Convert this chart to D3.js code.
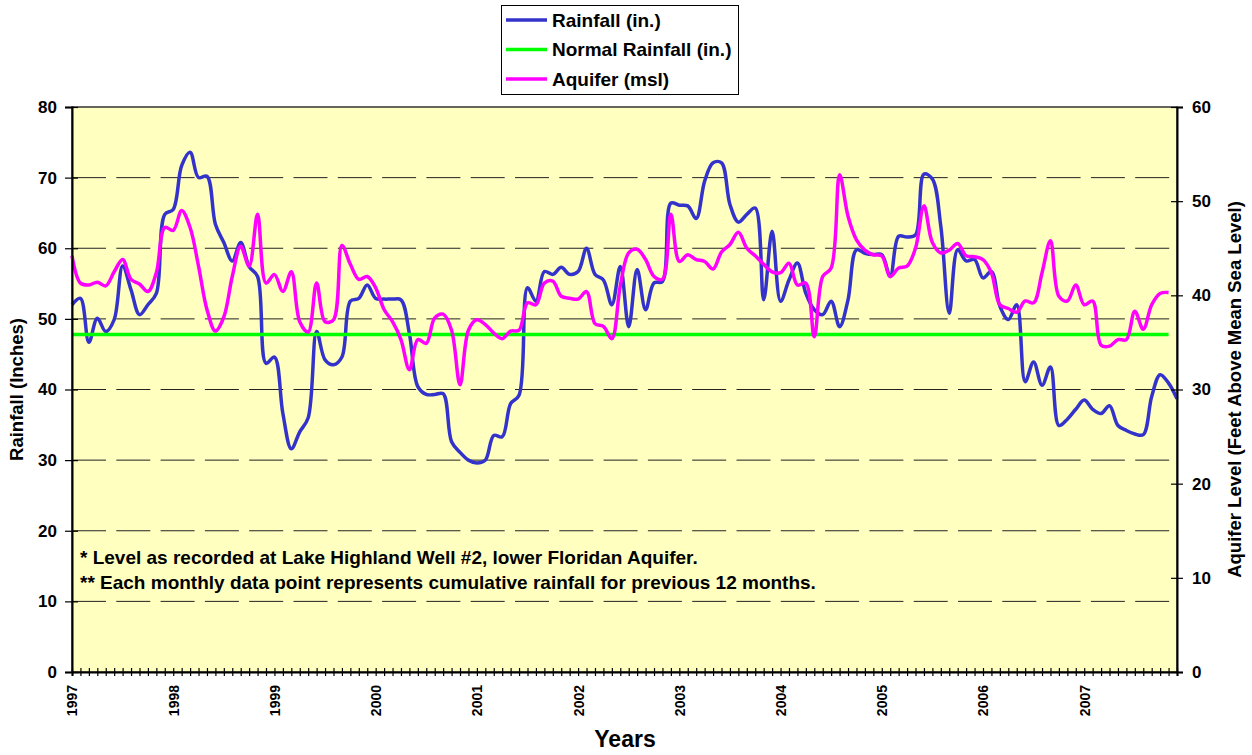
<!DOCTYPE html>
<html>
<head>
<meta charset="utf-8">
<script src="https://cdn.jsdelivr.net/npm/d3@7"></script>
<style>
    body { margin: 0; background: #fff; }
    text { font-family: "Liberation Sans", Arial, sans-serif; font-weight: bold; fill: #000; }
</style>
</head>
<body>
<script>
// year labels on the category axis
var years = ['1997', '1998', '1999', '2000', '2001', '2002', '2003', '2004', '2005', '2006', '2007'];

// rolling 12-month rainfall (in.), one value per month from Jan 1997
var rainfall = [
    52.0, 52.9, 46.7, 50.1, 48.2, 49.9, 57.5, 54.1, 50.6, 52.0, 53.6, 64.8,
    65.5, 71.7, 73.6, 70.0, 70.2, 63.4, 60.8, 58.2, 60.8, 57.4, 56.0, 43.7,
    44.6, 36.6, 31.6, 34.0, 36.0, 48.2, 44.2, 43.5, 44.6, 52.5, 52.9, 54.8,
    52.9, 52.8, 52.8, 52.7, 47.9, 40.4, 39.3, 39.3, 39.4, 32.6, 31.1, 30.0,
    29.6, 30.0, 33.5, 33.3, 38.0, 39.2, 54.4, 52.5, 56.7, 56.3, 57.3, 56.3,
    56.7, 60.0, 56.3, 55.5, 52.0, 57.4, 48.9, 57.0, 51.3, 55.1, 55.3, 66.4,
    66.1, 66.0, 64.2, 69.5, 72.1, 72.1, 66.2, 63.7, 64.8, 65.7, 52.7, 62.4,
    52.5, 55.5, 57.9, 53.6, 51.3, 50.6, 52.5, 48.9, 52.7, 59.8, 59.3, 59.1,
    59.1, 56.0, 61.7, 61.6, 61.9, 70.5, 69.8, 63.1, 50.8, 59.8, 58.2, 58.4,
    55.8, 56.7, 51.8, 49.9, 52.0, 41.1, 43.9, 40.6, 43.2, 34.9, 35.8, 37.2,
    38.5, 37.2, 36.6, 37.7, 34.9, 34.2, 33.7, 33.6, 39.0, 42.1, 40.9, 38.7
];

// aquifer level (feet above mean sea level), one value per month from Jan 1997
var aquifer = [
    44.2, 41.3, 41.1, 41.4, 41.0, 42.5, 43.8, 41.7, 41.2, 40.4, 42.4, 47.2,
    46.9, 49.0, 47.2, 43.1, 38.5, 36.2, 37.7, 42.0, 45.2, 43.1, 48.6, 41.3,
    42.2, 40.4, 42.5, 37.2, 36.1, 41.3, 37.2, 37.4, 45.3, 43.3, 41.7, 42.0,
    40.8, 38.5, 37.2, 35.3, 32.1, 35.3, 34.9, 37.6, 38.0, 36.3, 30.5, 36.3,
    37.4, 36.9, 36.0, 35.4, 36.2, 36.3, 39.2, 39.0, 41.3, 41.5, 39.9, 39.7,
    39.6, 40.4, 37.0, 36.7, 35.4, 41.0, 44.5, 44.9, 43.8, 42.0, 41.7, 48.6,
    43.6, 44.3, 43.8, 43.6, 42.8, 44.6, 45.4, 46.7, 45.0, 44.2, 43.3, 42.5,
    42.4, 43.4, 41.1, 41.3, 35.6, 42.0, 42.9, 52.8, 48.4, 45.9, 44.8, 44.3,
    44.2, 42.0, 42.9, 43.1, 45.0, 49.5, 45.6, 44.5, 44.8, 45.5, 44.2, 44.1,
    43.8, 42.4, 39.0, 38.6, 38.2, 39.4, 39.2, 42.4, 45.8, 39.9, 39.4, 41.1,
    39.0, 39.4, 34.7, 34.6, 35.3, 35.3, 38.3, 36.4, 39.0, 40.2, 40.3
];

// normal annual rainfall (in.)
var normalRainfall = 47.8;

// axis ticks
var rainTicks    = [0, 10, 20, 30, 40, 50, 60, 70, 80];
var aquiferTicks = [0, 10, 20, 30, 40, 50, 60];

// legend entries
var legendItems = [
    { label: 'Rainfall (in.)',        color: '#3333cc' },
    { label: 'Normal Rainfall (in.)', color: '#00ff00' },
    { label: 'Aquifer (msl)',         color: '#ff00ff' }
];

// notes inside the plot
var notes = [
    '* Level as recorded at Lake Highland Well #2, lower Floridan Aquifer.',
    '** Each monthly data point represents cumulative rainfall for previous 12 months.'
];

// init
var W = 1252, H = 755,
    plot = { left: 72, right: 1177, top: 107, bottom: 672 },
    months = d3.range(0, 132);

// scale for x-axis (months since Jan 1997)
var xScale = d3.scaleLinear().domain([0, 131]).range([plot.left, plot.right]);

// scales for both y-axes
var yRain    = d3.scaleLinear().domain([0, 80]).range([plot.bottom, plot.top]);
var yAquifer = d3.scaleLinear().domain([0, 60]).range([plot.bottom, plot.top]);

// create svg
var svg = d3.select('body').append('svg')
    .attr('width', W)
    .attr('height', H);

// plot background
svg.append('rect')
    .attr('x', plot.left)
    .attr('y', plot.top)
    .attr('width', plot.right - plot.left)
    .attr('height', plot.bottom - plot.top)
    .attr('fill', '#ffffc0')
    .attr('stroke', '#333')
    .attr('stroke-width', 1.5);

// dashed gridlines
svg.append('g')
    .selectAll('line')
    .data(rainTicks.filter(function(d) { return d > 0 && d < 80; }))
    .enter()
    .append('line')
    .attr('x1', plot.left)
    .attr('x2', plot.right)
    .attr('y1', function(d) { return yRain(d); })
    .attr('y2', function(d) { return yRain(d); })
    .attr('stroke', '#222')
    .attr('stroke-width', 1)
    .attr('stroke-dasharray', '34,10.3');

/**
 * make a smoothed line generator
 * @param {*} y
 * @returns
 */
function smooth(y) {
    return d3.line()
        .x(function(d, i) { return xScale(i); })
        .y(function(d) { return y(d); })
        .curve(d3.curveCatmullRom.alpha(0.5));
}

// rainfall
svg.append('path')
    .datum(rainfall)
    .attr('d', smooth(yRain))
    .attr('fill', 'none')
    .attr('stroke', legendItems[0].color)
    .attr('stroke-width', 3.5);

// normal rainfall
svg.append('path')
    .datum(aquifer.map(function() { return normalRainfall; }))
    .attr('d', smooth(yRain))
    .attr('fill', 'none')
    .attr('stroke', legendItems[1].color)
    .attr('stroke-width', 3.5);

// aquifer
svg.append('path')
    .datum(aquifer)
    .attr('d', smooth(yAquifer))
    .attr('fill', 'none')
    .attr('stroke', legendItems[2].color)
    .attr('stroke-width', 3.5);

// left axis
var leftAxis = svg.append('g')
    .attr('transform', 'translate(' + plot.left + ',0)')
    .call(d3.axisLeft(yRain).tickValues(rainTicks).tickSize(7).tickPadding(8));

// right axis
var rightAxis = svg.append('g')
    .attr('transform', 'translate(' + plot.right + ',0)')
    .call(d3.axisRight(yAquifer).tickValues(aquiferTicks).tickSize(6).tickPadding(9));

// bottom axis, one tick per month
var bottomAxis = svg.append('g')
    .attr('transform', 'translate(0,' + plot.bottom + ')')
    .call(d3.axisBottom(xScale)
        .tickValues(months)
        .tickSize(4)
        .tickFormat(function(d) { return d % 12 === 0 ? years[d / 12] : ''; }));

// styling shared by the axes
[leftAxis, rightAxis, bottomAxis].forEach(function(a) {
    a.select('.domain').attr('stroke', '#000').attr('stroke-width', 2);
    a.selectAll('.tick line').attr('stroke', '#000').attr('stroke-width', 1.2);
    a.selectAll('text').attr('font-family', null).attr('fill', '#000');
});
leftAxis.selectAll('.tick line').attr('x1', 6);
rightAxis.selectAll('.tick line').attr('x1', -6);
bottomAxis.selectAll('.tick line').attr('y1', -4);
leftAxis.selectAll('text').attr('font-size', 17);
rightAxis.selectAll('text').attr('font-size', 17);

// rotated year labels
bottomAxis.selectAll('.tick text')
    .attr('font-size', 14)
    .attr('text-anchor', 'end')
    .attr('transform', 'rotate(-90)')
    .attr('x', -13)
    .attr('y', 0)
    .attr('dy', '0.35em');

// axis titles
svg.append('text')
    .attr('transform', 'translate(17,' + (plot.top + plot.bottom) / 2 + ') rotate(-90)')
    .attr('text-anchor', 'middle')
    .attr('dy', '0.35em')
    .attr('font-size', 18.5)
    .text('Rainfall (Inches)');

svg.append('text')
    .attr('transform', 'translate(1235,' + (plot.top + plot.bottom) / 2 + ') rotate(-90)')
    .attr('text-anchor', 'middle')
    .attr('dy', '0.35em')
    .attr('font-size', 18.5)
    .text('Aquifer Level (Feet Above Mean Sea Level)');

svg.append('text')
    .attr('x', 625)
    .attr('y', 747)
    .attr('text-anchor', 'middle')
    .attr('font-size', 23)
    .text('Years');

// notes
svg.append('g')
    .selectAll('text')
    .data(notes)
    .enter()
    .append('text')
    .attr('x', 80)
    .attr('y', function(d, i) { return 564 + i * 25; })
    .attr('font-size', 19)
    .text(function(d) { return d; });

// legend
var legend = svg.append('g');
legend.append('rect')
    .attr('x', 501.5)
    .attr('y', 5.5)
    .attr('width', 237)
    .attr('height', 89)
    .attr('fill', '#fff')
    .attr('stroke', '#000');
var entries = legend.selectAll('.entry')
    .data(legendItems)
    .enter()
    .append('g')
    .attr('transform', function(d, i) { return 'translate(0,' + (20 + i * 29.5) + ')'; });
entries.append('line')
    .attr('x1', 506)
    .attr('x2', 547)
    .attr('stroke', function(d) { return d.color; })
    .attr('stroke-width', 3.5);
entries.append('text')
    .attr('x', 552)
    .attr('dy', '0.35em')
    .attr('font-size', 19)
    .text(function(d) { return d.label; });
</script>
</body>
</html>
